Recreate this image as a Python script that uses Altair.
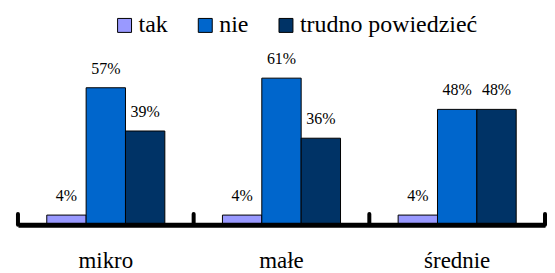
import altair as alt
import pandas as pd

categories = ["mikro", "małe", "średnie"]
series = ["tak", "nie", "trudno powiedzieć"]
tak = [4, 4, 4]
nie = [57, 61, 48]
trudno = [39, 36, 48]
colors = ["#9999FF", "#0066CC", "#003366"]

FONT = "Liberation Serif"

rows = []
for i, c in enumerate(categories):
    for s, vals in zip(series, [tak, nie, trudno]):
        rows.append({"kategoria": c, "odp": s, "wartosc": vals[i], "etykieta": f"{vals[i]}%"})
df = pd.DataFrame(rows)

ticks_left = pd.DataFrame({"kategoria": categories})
ticks_right = pd.DataFrame({"kategoria": categories[-1:]})

xscale = alt.Scale(domain=categories, paddingInner=0, paddingOuter=0)
xaxis = alt.Axis(title=None, labelAngle=0, ticks=False, tickSize=0, domainWidth=5,
                 domainColor="black", labelFont=FONT, labelFontSize=23,
                 labelColor="black", labelPadding=25, zindex=1, grid=False)
x = alt.X("kategoria:N", scale=xscale, axis=xaxis)
xo = alt.XOffset("odp:N", sort=series, scale=alt.Scale(domain=series, paddingOuter=0.732, paddingInner=0))
yscale = alt.Scale(domain=[0, 90])
y = alt.Y("wartosc:Q", scale=yscale, axis=None)

bars = alt.Chart(df).mark_bar(stroke="black", strokeWidth=1).encode(
    x=x, xOffset=xo, y=y,
    color=alt.Color("odp:N", sort=series, scale=alt.Scale(domain=series, range=colors),
                    legend=alt.Legend(title=None, orient="none", legendX=95, legendY=5,
                                      direction="horizontal", symbolType="square",
                                      symbolSize=196, symbolStrokeColor="black",
                                      symbolStrokeWidth=1, labelFont=FONT,
                                      labelFontSize=24, labelColor="black", labelOffset=2,
                                      columnPadding=25, padding=0, labelLimit=400)),
)

labels = alt.Chart(df).mark_text(baseline="alphabetic", dy=-14, font=FONT,
                                 fontSize=16, color="black").encode(
    x=x, xOffset=xo, y=y, text="etykieta:N")

tick_l = alt.Chart(ticks_left).mark_rule(strokeWidth=4, strokeCap="round", color="black").encode(
    x=alt.X("kategoria:N", scale=xscale, axis=xaxis, bandPosition=0),
    y=alt.YDatum(0, scale=yscale, axis=None),
    y2=alt.Y2Datum(4.5),
)
tick_r = alt.Chart(ticks_right).mark_rule(strokeWidth=4, strokeCap="round", color="black").encode(
    x=alt.X("kategoria:N", scale=xscale, axis=xaxis, bandPosition=1),
    y=alt.YDatum(0, scale=yscale, axis=None),
    y2=alt.Y2Datum(4.5),
)

chart = alt.layer(bars, labels, tick_l, tick_r).properties(
    width=529, height=217,
    padding={"left": 8, "top": 0, "right": 0, "bottom": 0},
).configure_view(stroke=None)

chart.save("out.html", embed_options={"renderer": "svg", "actions": False})
